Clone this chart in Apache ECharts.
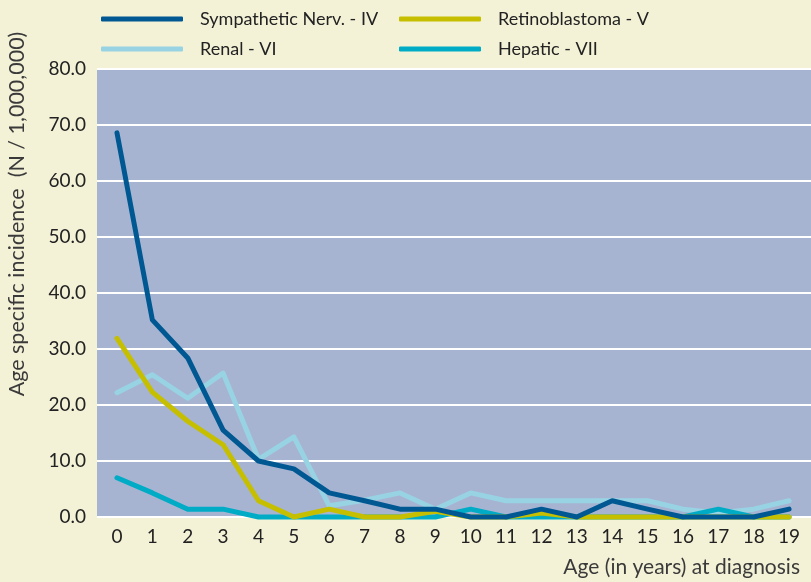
<!DOCTYPE html>
<html>
<head>
<meta charset="utf-8">
<script src="https://cdn.jsdelivr.net/npm/echarts@6/dist/echarts.min.js"></script>
<style>
  html, body { margin: 0; padding: 0; background: #f3f1d6; }
  #main { width: 811px; height: 582px; }
</style>
</head>
<body>
<div id="main"></div>
<script>
var ages = [0, 1, 2, 3, 4, 5, 6, 7, 8, 9, 10, 11, 12, 13, 14, 15, 16, 17, 18, 19];
var sympathetic = [68.6, 35.2, 28.4, 15.5, 10.0, 8.6, 4.3, 2.9, 1.4, 1.4, 0, 0, 1.4, 0, 2.9, 1.4, 0, 0, 0, 1.4];
var retinoblastoma = [31.9, 22.3, 17.1, 12.9, 2.9, 0, 1.4, 0, 0, 1.0, 0, 0, 0.7, 0, 0, 0, 0, 0, 0, 0];
var renal = [22.2, 25.4, 21.2, 25.7, 10.3, 14.3, 2.0, 3.0, 4.3, 1.4, 4.3, 2.9, 2.9, 2.9, 2.9, 2.9, 1.4, 0.7, 1.4, 2.9];
var hepatic = [7.0, 4.3, 1.4, 1.4, 0, 0, 0, 0, 0, 0, 1.4, 0, 0, 0, 0, 0, 0, 1.4, 0, 0];
var yTicks = [0, 10, 20, 30, 40, 50, 60, 70, 80];

var fontFam = 'Lato';

function pairs(vals) {
    var out = [];
    for (var i = 0; i < ages.length; i++) {
        out.push([ages[i], vals[i]]);
    }
    return out;
}

function line(name, vals, color) {
    return {
        name: name,
        type: 'line',
        data: pairs(vals),
        symbol: 'none',
        clip: false,
        lineStyle: {width: 5, color: color, cap: 'round', join: 'round'},
        itemStyle: {color: color}
    };
}

function legend(name, left, top) {
    return {
        data: [name],
        left: left,
        top: top,
        icon: 'roundRect',
        itemWidth: 82,
        itemHeight: 5,
        selectedMode: false,
        textStyle: {fontFamily: fontFam, fontSize: 18, color: '#222', padding: [0, 0, 0, 12]}
    };
}

var myChart = echarts.init(document.getElementById('main'));
myChart.setOption({
    backgroundColor: '#f3f1d6',
    animation: false,
    legend: [
        legend('Sympathetic Nerv. - IV', 96, 5),
        legend('Retinoblastoma - V', 394, 5),
        legend('Renal - VI', 96, 35),
        legend('Hepatic - VII', 394, 35)
    ],
    grid: {
        left: 97,
        top: 69,
        right: 0,
        bottom: 65,
        show: true,
        backgroundColor: '#a6b4d2',
        borderWidth: 0
    },
    xAxis: {
        type: 'value',
        min: -0.565,
        max: 19.62,
        axisLine: {show: false},
        axisTick: {show: false},
        splitLine: {show: false},
        axisLabel: {
            customValues: ages,
            margin: 10,
            fontFamily: fontFam,
            fontSize: 19,
            color: '#222'
        }
    },
    yAxis: {
        type: 'value',
        min: 0,
        max: 80,
        interval: 10,
        axisLine: {show: false},
        axisTick: {show: false},
        splitLine: {lineStyle: {color: '#ffffff', width: 2}},
        axisLabel: {
            customValues: yTicks,
            margin: 11,
            fontFamily: fontFam,
            fontSize: 19,
            color: '#222',
            formatter: function (value) {
                return value.toFixed(1);
            }
        }
    },
    graphic: [
        {
            type: 'text',
            x: 17,
            y: 214,
            rotation: Math.PI / 2,
            style: {
                text: 'Age specific incidence  (N / 1,000,000)',
                fontFamily: fontFam,
                fontSize: 21.5,
                fill: '#3a3a3a',
                align: 'center',
                verticalAlign: 'middle'
            }
        },
        {
            type: 'text',
            x: 800,
            y: 567,
            style: {
                text: 'Age (in years) at diagnosis',
                fontFamily: fontFam,
                fontSize: 21,
                fill: '#3a3a3a',
                align: 'right',
                verticalAlign: 'middle'
            }
        }
    ],
    series: [
        line('Renal - VI', renal, '#98d3e3'),
        line('Hepatic - VII', hepatic, '#00abc5'),
        line('Retinoblastoma - V', retinoblastoma, '#c6bf00'),
        line('Sympathetic Nerv. - IV', sympathetic, '#005893')
    ]
});
</script>
</body>
</html>
